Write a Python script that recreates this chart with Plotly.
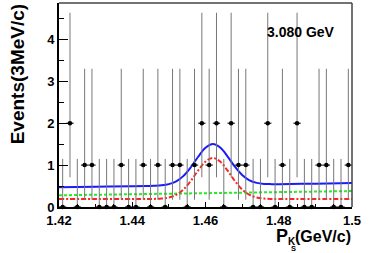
import plotly.graph_objects as go

# ---------------- data ----------------
bin_centers = [1.421, 1.423, 1.425, 1.427, 1.429, 1.431, 1.433, 1.435, 1.437, 1.439,
               1.441, 1.443, 1.445, 1.447, 1.449, 1.451, 1.453, 1.455, 1.457, 1.459,
               1.461, 1.463, 1.465, 1.467, 1.469, 1.471, 1.473, 1.475, 1.477, 1.479,
               1.481, 1.483, 1.485, 1.487, 1.489, 1.491, 1.493, 1.495, 1.497, 1.499]
counts = [0, 2, 0, 1, 1, 0, 0, 0, 1, 0,
          0, 1, 0, 1, 0, 1, 1, 0, 1, 2,
          1, 2, 0, 2, 1, 1, 0, 0, 2, 0,
          1, 0, 2, 0, 0, 1, 1, 0, 0, 1]
half_bin = 0.001
# Poisson (ROOT-style) asymmetric errors for each observed count
poisson_low = {0: 0.0, 1: 0.827, 2: 1.291}
poisson_up = {0: 1.148, 1: 2.300, 2: 2.638}

# fit curves
curve_x = [1.420, 1.430, 1.440, 1.444, 1.446, 1.448, 1.450, 1.452, 1.454, 1.456,
           1.458, 1.460, 1.462, 1.464, 1.466, 1.468, 1.470, 1.472, 1.474, 1.476,
           1.478, 1.480, 1.490, 1.500]
total_fit = [0.470, 0.483, 0.495, 0.501, 0.506, 0.517, 0.546, 0.612, 0.743, 0.949,
             1.200, 1.415, 1.503, 1.420, 1.210, 0.964, 0.763, 0.637, 0.576, 0.552,
             0.546, 0.546, 0.558, 0.570]
signal_fit = [0.190, 0.190, 0.190, 0.191, 0.193, 0.202, 0.228, 0.292, 0.420, 0.624,
              0.872, 1.085, 1.170, 1.085, 0.872, 0.624, 0.420, 0.292, 0.228, 0.202,
              0.193, 0.191, 0.190, 0.190]
bkg_x = [1.420, 1.500]
bkg_fit = [0.280, 0.380]

x_ticks = [1.42, 1.44, 1.46, 1.48, 1.50]
x_ticklabels = ["1.42", "1.44", "1.46", "1.48", "1.5"]
y_ticks = [0, 1, 2, 3, 4]
y_ticklabels = ["0", "1", "2", "3", "4"]

energy_label = "3.080 GeV"
y_title = "Events(3MeV/c)"

# ---------------- figure ----------------
W, H = 374, 253
L, R, T, B = 59, 22, 3, 45.5
pw, ph = W - L - R, H - T - B
FONT = "Liberation Sans, Arial, Helvetica, sans-serif"

def px_x(px):
    return (px - L) / pw

def px_y(py):
    return (H - B - py) / ph

def bold(s):
    return "<b>" + s + "</b>"

err_low = [poisson_low[c] for c in counts]
err_up = [poisson_up[c] for c in counts]

fig = go.Figure()
fig.add_trace(go.Scatter(x=bkg_x, y=bkg_fit, mode="lines",
                         line=dict(color="#22ee22", width=2, dash="3px,2px"),
                         hoverinfo="skip"))
fig.add_trace(go.Scatter(x=curve_x, y=signal_fit, mode="lines", line_shape="spline",
                         line=dict(color="#ff2222", width=2, dash="5px,2px,2px,2px"),
                         hoverinfo="skip"))
fig.add_trace(go.Scatter(x=curve_x, y=total_fit, mode="lines", line_shape="spline",
                         line=dict(color="#1a1aff", width=2),
                         hoverinfo="skip"))
fig.add_trace(go.Scatter(
    x=bin_centers, y=counts, mode="markers",
    marker=dict(color="black", size=4.5, symbol="circle"),
    error_y=dict(type="data", symmetric=False, array=err_up, arrayminus=err_low,
                 color="#777777", thickness=1, width=0),
    error_x=dict(type="constant", value=half_bin, color="#222222", thickness=1.2, width=0),
    cliponaxis=False,
))

fig.update_layout(
    width=W, height=H,
    margin=dict(l=L, r=R, t=T, b=B, pad=0),
    paper_bgcolor="white", plot_bgcolor="white",
    showlegend=False,
    font=dict(family=FONT, color="black"),
)
fig.update_xaxes(
    range=[1.42, 1.5], tickvals=x_ticks, ticktext=[bold(t) for t in x_ticklabels],
    ticks="inside", ticklen=5, tickwidth=1, tickcolor="black",
    minor=dict(dtick=0.005, ticks="inside", ticklen=3, tickcolor="black", tick0=1.42),
    showgrid=False, zeroline=False,
    showline=True, linecolor="black", linewidth=2,
    tickfont=dict(size=13, family=FONT),
)
fig.update_yaxes(
    range=[0, 4.87], tickvals=y_ticks, ticktext=[bold(t) for t in y_ticklabels],
    ticks="inside", ticklen=9, tickwidth=1, tickcolor="black",
    minor=dict(dtick=0.5, ticks="inside", ticklen=5, tickcolor="black", tick0=0),
    showgrid=False, zeroline=False,
    showline=True, linecolor="black", linewidth=2,
    tickfont=dict(size=13, family=FONT),
)

# top / right frame
fig.add_shape(type="line", xref="paper", yref="paper", x0=0, x1=1, y0=1, y1=1,
              line=dict(color="#444444", width=1.5))
fig.add_shape(type="line", xref="paper", yref="paper", x0=1, x1=1, y0=0, y1=1,
              line=dict(color="#444444", width=1.5))

ann = []
ann.append(dict(text=bold(energy_label), x=px_x(266), y=px_y(32.5), xref="paper", yref="paper",
                xanchor="left", yanchor="middle", showarrow=False,
                font=dict(size=14, family=FONT)))
ann.append(dict(text=bold(y_title), x=px_x(17.5), y=px_y(75), xref="paper", yref="paper",
                xanchor="center", yanchor="middle", textangle=-90, showarrow=False,
                font=dict(size=19, family=FONT)))
ann.append(dict(text=bold("P"), x=px_x(275), y=px_y(237), xref="paper", yref="paper",
                xanchor="left", yanchor="middle", showarrow=False,
                font=dict(size=18, family=FONT)))
ann.append(dict(text=bold("K"), x=px_x(286.5), y=px_y(242.5), xref="paper", yref="paper",
                xanchor="left", yanchor="middle", showarrow=False,
                font=dict(size=10, family=FONT)))
ann.append(dict(text=bold("S"), x=px_x(290), y=px_y(249), xref="paper", yref="paper",
                xanchor="left", yanchor="middle", showarrow=False,
                font=dict(size=7.5, family=FONT)))
ann.append(dict(text=bold("(GeV/c)"), x=px_x(352), y=px_y(237), xref="paper", yref="paper",
                xanchor="right", yanchor="middle", showarrow=False,
                font=dict(size=16, family=FONT)))
for a in ann:
    a["borderpad"] = 0
fig.update_layout(annotations=ann)

fig.write_html(
    "out.html",
    config={"displayModeBar": False},
    post_script="document.body.style.margin='0';document.body.style.padding='0';"
                "document.documentElement.style.overflow='hidden';",
)
